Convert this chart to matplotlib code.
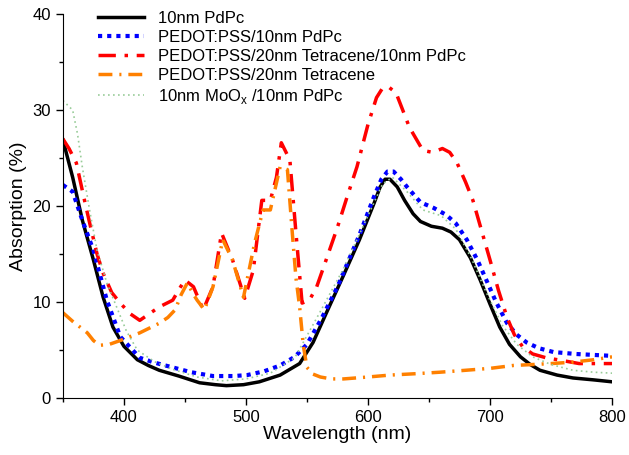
import matplotlib
matplotlib.use("Agg")
import matplotlib.pyplot as plt

plt.rcParams['font.family'] = ['Liberation Sans', 'DejaVu Sans']

# 10nm PdPc
wl_black = [350, 358, 366, 375, 383, 391, 400, 411, 420, 429, 445, 462, 475, 484, 498, 511,
            528, 544, 555, 566, 580, 593, 605, 610, 614, 618, 624, 630, 637, 643, 652, 661, 668, 675, 684,
            692, 700, 708, 716, 725, 733, 741, 755, 768, 785, 800]
ab_black = [26.9, 23.0, 18.5, 14.4, 10.5, 7.4, 5.4, 4.0, 3.4, 2.9, 2.3, 1.6, 1.4, 1.3, 1.4, 1.7,
            2.4, 3.6, 5.8, 8.9, 12.8, 16.5, 20.3, 22.0, 22.8, 22.8, 22.0, 20.6, 19.2, 18.4, 17.9, 17.7, 17.3, 16.5, 14.6,
            12.3, 9.8, 7.4, 5.6, 4.3, 3.5, 2.9, 2.4, 2.1, 1.9, 1.7]

# PEDOT:PSS/10nm PdPc
wl_blue = [350, 358, 366, 375, 386, 397, 413, 425, 440, 455, 473, 490, 501, 515, 528, 540,
           550, 562, 575, 593, 605, 611, 616, 621, 627, 632, 643, 654, 664, 672, 681, 690, 697, 705,
           714, 722, 730, 740, 752, 770, 785, 800]
ab_blue = [22.2, 21.5, 18.5, 15.4, 10.2, 6.4, 4.2, 3.7, 3.2, 2.7, 2.3, 2.3, 2.4, 2.8, 3.4, 4.3,
           5.6, 8.3, 11.6, 17.0, 21.0, 22.8, 23.6, 23.6, 22.8, 22.0, 20.4, 19.8, 19.1, 18.2, 16.5, 14.3, 12.3, 10.0,
           7.8, 6.6, 5.8, 5.2, 4.8, 4.6, 4.5, 4.4]

# PEDOT:PSS/20nm Tetracene/10nm PdPc
wl_red = [350, 355, 361, 367, 372, 378, 383, 390, 397, 405, 413, 421, 429, 440, 446, 450,
          457, 465, 473, 480, 489, 499, 506, 513, 520, 525, 529, 536, 541, 546, 552, 558,
          566, 575, 583, 591, 600, 607, 612, 617, 623, 634, 645, 653, 661, 667, 673, 680,
          686, 693, 700, 707, 714, 720, 727, 735, 746, 760, 773, 787, 800]
ab_red = [27.0, 26.0, 24.5, 21.0, 18.2, 15.0, 13.0, 11.0, 9.9, 8.8, 8.1, 8.8, 9.5, 10.2, 11.5, 12.3,
          11.6, 9.2, 11.6, 17.2, 14.4, 10.4, 13.3, 20.6, 20.6, 23.0, 26.6, 24.8, 17.2, 9.9, 10.2, 11.6,
          14.5, 17.8, 21.0, 24.1, 28.5, 31.3, 32.3, 32.4, 31.8, 28.2, 25.8, 25.6, 26.0, 25.6, 24.5, 22.5,
          20.6, 17.5, 14.4, 11.2, 8.4, 6.6, 5.3, 4.6, 4.2, 3.9, 3.6, 3.6, 3.6]

# PEDOT:PSS/20nm Tetracene
wl_orange = [350, 358, 364, 370, 375, 380, 388, 397, 405, 413, 421, 429, 436, 442, 447, 452,
             457, 460, 466, 473, 481, 489, 498, 507, 514, 520, 528, 534, 538, 541, 544, 547,
             550, 555, 561, 570, 580, 600, 618, 640, 659, 680, 700, 719, 735, 750, 768, 785, 800]
ab_orange = [8.9, 8.0, 7.4, 6.8, 6.0, 5.5, 5.6, 6.0, 6.4, 6.8, 7.3, 7.8, 8.4, 9.2, 10.8, 12.0,
             10.8, 10.2, 9.2, 11.6, 16.5, 14.4, 10.5, 16.1, 19.6, 19.6, 24.1, 23.8, 17.2, 12.5, 9.5, 5.5,
             3.2, 2.5, 2.2, 2.0, 2.0, 2.2, 2.4, 2.55, 2.7, 2.9, 3.1, 3.4, 3.5, 3.6, 3.75, 4.0, 4.3]

# 10nm MoOx/10nm PdPc
wl_green = [350, 354, 358, 362, 366, 372, 378, 386, 394, 402, 411, 425, 440, 460, 480, 500,
            520, 540, 560, 580, 600, 612, 620, 632, 645, 660, 672, 685, 697, 710, 722, 735,
            750, 768, 785, 800]
ab_green = [31.0, 30.5, 30.0, 27.5, 24.0, 19.5, 15.4, 12.0, 9.5, 7.0, 5.0, 3.8, 3.0, 2.2, 1.8, 2.0,
            2.6, 4.2, 8.8, 13.5, 19.0, 22.3, 23.0, 21.5, 19.6, 19.0, 17.6, 14.5, 11.0, 7.6, 5.6, 4.3,
            3.5, 2.9, 2.7, 2.6]

fig = plt.figure(figsize=(6.29, 4.55), dpi=100)
ax = fig.add_axes([0.1, 0.125, 0.873, 0.844])

ax.plot(wl_black, ab_black, color='black', lw=2.5, label='10nm PdPc')
ax.plot(wl_blue, ab_blue, color='blue', lw=3, linestyle=(0, (1, 1.2)), label='PEDOT:PSS/10nm PdPc')
ax.plot(wl_red, ab_red, color='red', lw=2.5, linestyle=(0, (5, 2.5, 1, 2.5)),
        label='PEDOT:PSS/20nm Tetracene/10nm PdPc')
ax.plot(wl_orange, ab_orange, color='#ff8000', lw=2.5, linestyle=(0, (4, 2, 0.6, 2)),
        label='PEDOT:PSS/20nm Tetracene')
ax.plot(wl_green, ab_green, color='#99cc99', lw=1.2, linestyle=(0, (1, 2)),
        label='10nm MoO$_\\mathregular{x}$ /10nm PdPc')

ax.set_xlim(350, 800)
ax.set_ylim(0, 40)
ax.set_xticks([400, 500, 600, 700, 800])
ax.set_xticks([350, 450, 550, 650, 750], minor=True)
ax.set_yticks([0, 10, 20, 30, 40])
ax.set_yticks([5, 15, 25, 35], minor=True)
ax.spines['top'].set_visible(False)
ax.spines['right'].set_visible(False)
ax.tick_params(direction='out', length=5, width=1, labelsize=12)
ax.tick_params(which='minor', direction='out', length=3, width=1)
ax.set_xlabel('Wavelength (nm)', fontsize=14, labelpad=1)
ax.set_ylabel('Absorption (%)', fontsize=14, labelpad=4)

ax.legend(loc='upper left', frameon=False, fontsize=12, handlelength=2.8,
          labelspacing=0.25, borderaxespad=0.2, bbox_to_anchor=(0.045, 1.035))

fig.savefig('out.png', dpi=100)
